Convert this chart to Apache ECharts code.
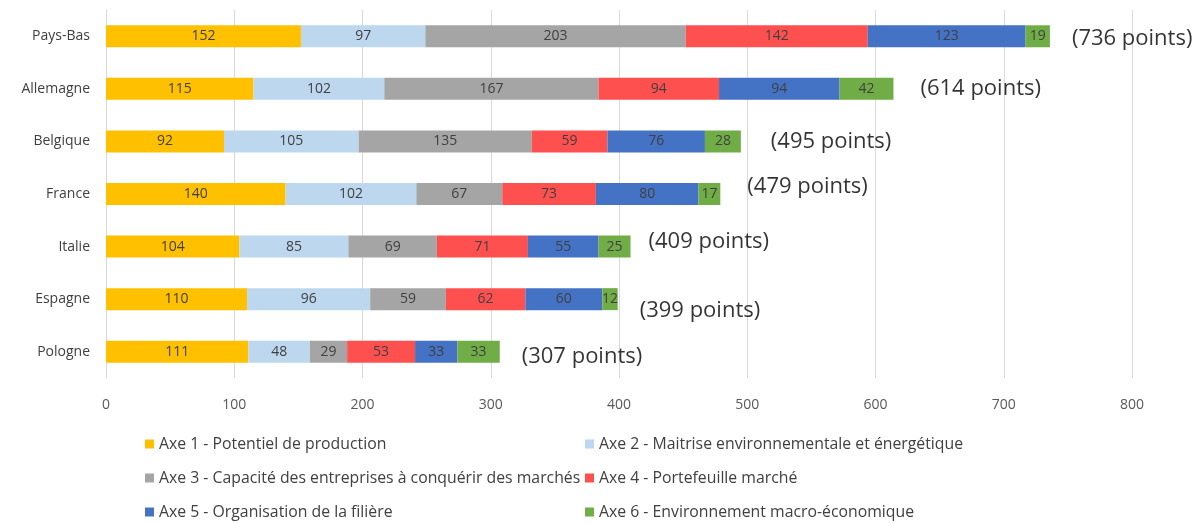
<!DOCTYPE html>
<html>
<head>
<meta charset="utf-8">
<script src="https://cdn.jsdelivr.net/npm/echarts@6/dist/echarts.min.js"></script>
<style>
  html, body { margin: 0; padding: 0; background: #fff; }
  #main { width: 1198px; height: 523px; }
</style>
</head>
<body>
<div id="main"></div>
<script>
var countries = ['Pays-Bas', 'Allemagne', 'Belgique', 'France', 'Italie', 'Espagne', 'Pologne'];
var axisNames = [
  'Axe 1 - Potentiel de production',
  'Axe 2 - Maitrise environnementale et énergétique',
  'Axe 3 - Capacité des entreprises à conquérir des marchés',
  'Axe 4 - Portefeuille marché',
  'Axe 5 - Organisation de la filière',
  'Axe 6 - Environnement macro-économique'
];
var axe1 = [152, 115, 92, 140, 104, 110, 111];
var axe2 = [97, 102, 105, 102, 85, 96, 48];
var axe3 = [203, 167, 135, 67, 69, 59, 29];
var axe4 = [142, 94, 59, 73, 71, 62, 53];
var axe5 = [123, 94, 76, 80, 55, 60, 33];
var axe6 = [19, 42, 28, 17, 25, 12, 33];
var totals = [736, 614, 495, 479, 409, 399, 307];

(function () {
  var myChart = echarts.init(document.getElementById('main'));
  var colors = ['#FFC000', '#BDD7EE', '#A5A5A5', '#FF5050', '#4472C4', '#70AD47'];
  var values = [axe1, axe2, axe3, axe4, axe5, axe6];
  var font = 'Open Sans';
  // the text boxes in the original are placed by hand, nudge them a bit
  var nudge = [[0, 2], [5, 0], [8, 0], [5, -7], [-4, -5], [0, 12], [0, 5]];

  var series = values.map(function (vals, i) {
    return {
      name: axisNames[i],
      type: 'bar',
      stack: 'total',
      barWidth: 22,
      itemStyle: { color: colors[i] },
      label: {
        show: true,
        position: 'inside',
        color: '#404040',
        fontFamily: font,
        fontSize: 14
      },
      data: vals
    };
  });

  // labels "(xxx points)" next to each bar
  series.push({
    name: 'total',
    type: 'scatter',
    symbolSize: 0,
    silent: true,
    label: {
      show: true,
      position: 'right',
      distance: 22,
      color: '#000',
      fontFamily: font,
      fontSize: 22,
      formatter: function (p) {
        return '(' + p.value[0] + ' points)';
      }
    },
    data: totals.map(function (t, i) {
      return {
        value: [t, countries[i]],
        label: { offset: nudge[i] }
      };
    })
  });

  var legendText = { color: '#404040', fontFamily: font, fontSize: 15.8 };

  var option = {
    animation: false,
    grid: {
      left: 106,
      right: 66,
      top: 10,
      bottom: 145
    },
    legend: [
      {
        orient: 'vertical',
        left: 145,
        top: 436,
        padding: 0,
        itemWidth: 9,
        itemHeight: 9,
        itemGap: 18,
        icon: 'rect',
        textStyle: legendText,
        data: [axisNames[0], axisNames[2], axisNames[4]]
      },
      {
        orient: 'vertical',
        left: 585,
        top: 436,
        padding: 0,
        itemWidth: 9,
        itemHeight: 9,
        itemGap: 18,
        icon: 'rect',
        textStyle: legendText,
        data: [axisNames[1], axisNames[3], axisNames[5]]
      }
    ],
    xAxis: {
      type: 'value',
      min: 0,
      max: 800,
      interval: 100,
      axisLine: { show: false },
      axisTick: { show: false },
      axisLabel: { color: '#595959', fontFamily: font, fontSize: 14, margin: 20 },
      splitLine: { lineStyle: { color: '#D9D9D9', width: 1 } }
    },
    yAxis: {
      type: 'category',
      inverse: true,
      data: countries,
      axisLine: { lineStyle: { color: '#D9D9D9' } },
      axisTick: { show: false },
      axisLabel: { color: '#404040', fontFamily: font, fontSize: 14, margin: 16 }
    },
    series: series
  };
  myChart.setOption(option);
})();
</script>
</body>
</html>
